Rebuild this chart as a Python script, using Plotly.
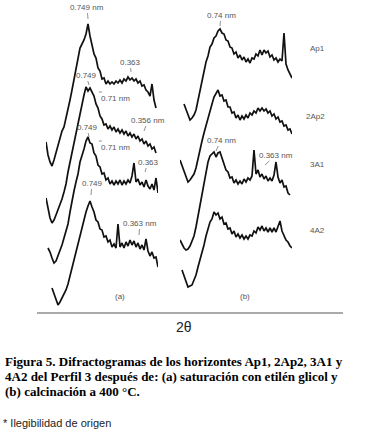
import plotly.graph_objects as go

# 2-theta sampling grid (degrees)
two_theta = [2.0, 2.5, 3.0, 3.5, 4.0, 4.5, 5.0, 5.5, 6.0, 6.5,
             7.0, 7.5, 8.0, 8.5, 9.0, 9.5, 10.0, 10.5, 11.0, 11.5,
             12.0, 12.5, 13.0, 13.5, 14.0, 14.5, 15.0, 15.5, 16.0, 16.5,
             17.0, 17.5, 18.0, 18.5, 19.0, 19.5, 20.0, 20.5, 21.0, 21.5,
             22.0, 22.5, 23.0, 23.5, 24.0, 24.5, 25.0, 25.5, 26.0, 26.5,
             27.0, 27.5, 28.0, 28.5, 29.0, 29.5, 30.0]

horizons = ["Ap1", "2Ap2", "3A1", "4A2"]

# (a) ethylene-glycol saturated - relative intensities
a_Ap1 = [24, 11, 4, 0, 6, 13, 20, 28, 35, 39, 47, 56, 66, 76, 86, 96, 106, 118, 122, 126,
         132, 142, 130, 122, 112, 108, 98, 95, 87, 88, 82, 85, 82, 84, 82, 85, 83, 86, 83, 87,
         85, 89, 86, 88, 85, 87, 83, 85, 80, 81, 76, 74, 70, 82, 66, 58, None]
a_2Ap2 = [25, 13, 5, 0, 3, 8, 13, 18, 24, 31, 39, 51, 61, 69, 78, 89, 101, 111, 120, 128,
          136, 132, 135, 130, 127, 119, 115, 107, 104, 98, 99, 94, 97, 93, 96, 91, 94, 90, 93, 89,
          92, 87, 90, 86, 89, 84, 87, 82, 84, 79, 82, 77, 79, 74, 76, 70, None]
a_3A1 = [None, 15, 11, 5, 0, 2, 7, 11, 18, 25, 32, 39, 51, 63, 72, 81, 89, 101, 107, 114,
         122, 126, 120, 119, 110, 107, 98, 96, 89, 90, 83, 85, 79, 82, 78, 82, 79, 83, 78, 82,
         79, 83, 80, 87, 100, 81, 84, 78, 81, 76, 83, 77, 74, 79, 73, 85, 70]
a_4A2 = [None, None, None, 17, 11, 5, 0, 3, 7, 11, 15, 21, 29, 39, 47, 55, 63, 69, 77, 85,
         93, 99, 104, 98, 93, 85, 83, 76, 75, 68, 69, 63, 65, 58, 61, 57, 81, 58, 62, 57,
         63, 59, 65, 60, 64, 58, 62, 56, 60, 55, 66, 54, 49, 53, 47, 48, 38]

# (b) calcined at 400 C - relative intensities
b_Ap1 = [None, None, 16, 10, 4, 0, 2, 5, 10, 20, 29, 38, 48, 58, 64, 73, 76, 82, 84, 89,
         91, 87, 86, 80, 79, 73, 72, 66, 68, 62, 65, 60, 63, 58, 61, 57, 62, 61, 66, 64,
         70, 65, 70, 67, 69, 63, 65, 60, 62, 58, 61, 59, 87, 56, 50, 46, 42]
b_2Ap2 = [22, 16, 10, 4, 0, 2, 5, 8, 14, 24, 32, 41, 49, 57, 65, 72, 78, 85, 88, 92,
          86, 87, 81, 82, 75, 75, 69, 70, 64, 67, 62, 66, 63, 67, 64, 69, 67, 71, 69, 74,
          71, 74, 71, 73, 69, 71, 66, 68, 63, 65, 60, 61, 56, 57, 52, 53, 48]
b_3A1 = [10, 6, 2, 0, 1, 4, 9, 14, 23, 34, 45, 55, 67, 79, 88, 94, 96, 98, 93, 97,
         98, 92, 87, 80, 78, 72, 73, 67, 70, 66, 69, 66, 71, 68, 72, 70, 74, 100, 76, 80,
         73, 76, 71, 74, 69, 72, 69, 75, 88, 73, 67, 70, 63, 64, 57, 55, None]
b_4A2 = [None, 17, 11, 5, 0, 1, 2, 7, 12, 20, 27, 35, 42, 51, 57, 65, 68, 75, 72, 74,
         68, 70, 63, 64, 58, 59, 53, 56, 50, 53, 49, 52, 48, 51, 48, 52, 51, 56, 54, 60,
         57, 61, 56, 59, 55, 59, 55, 59, 55, 61, 66, 56, 52, 47, 45, 41, 39]

# vertical stacking offsets used for display
offsets_a = [147, 90, 50, 8]
offsets_b = [193, 131, 63, 26]

panel_a = [a_Ap1, a_2Ap2, a_3A1, a_4A2]
panel_b = [b_Ap1, b_2Ap2, b_3A1, b_4A2]

W, H = 373, 438
LINE_BOTTOM = 313  # px from top where the base line sits

fig = go.Figure()

def stacked(vals, off):
    return [None if v is None else v + off for v in vals]

for name, vals, off in zip(horizons, panel_a, offsets_a):
    fig.add_trace(go.Scatter(x=two_theta, y=stacked(vals, off), mode="lines",
                             line=dict(color="#111111", width=1.7), name=name + " (a)",
                             xaxis="x", yaxis="y", showlegend=False, connectgaps=False))
for name, vals, off in zip(horizons, panel_b, offsets_b):
    fig.add_trace(go.Scatter(x=two_theta, y=stacked(vals, off), mode="lines",
                             line=dict(color="#111111", width=1.7), name=name + " (b)",
                             xaxis="x2", yaxis="y", showlegend=False, connectgaps=False))

ann = []
GRAY = "#555555"
SMALL = dict(family="Liberation Sans, Arial, sans-serif", size=8, color=GRAY)

# peak labels: (axis, text, 2theta, level, ax, ay)
peak_labels = [
    ("x", "0.749 nm", 12.5, 294, -1, -12),
    ("x", "0.363", 23.25, 241, -1, -10),
    ("x", "0.749", 12.75, 228, -3, -10),
    ("x", "0.356 nm", 26.5, 182, 4, -11),
    ("x", "0.749", 12.75, 176, -2, -10),
    ("x", "0.363", 26.75, 141, 3, -10),
    ("x", "0.749", 13.25, 118, 1, -12),
    ("x", "0.363 nm", 25.25, 78, 1, -12),
    ("x2", "0.74 nm", 12.0, 287, 1, -11),
    ("x2", "0.74 nm", 11.0, 162, 5, -11),
    ("x2", "0.363 nm", 23.25, 148, 11, -10),
]
for axn, txt, xx, yy, axo, ayo in peak_labels:
    ann.append(dict(x=xx, y=yy, xref=axn, yref="y", text=txt, showarrow=True,
                    arrowhead=0, arrowwidth=0.8, arrowcolor="#777777", ax=axo, ay=ayo,
                    font=SMALL))

# labels without tick
plain_labels = [
    ("x", "0.71 nm", 19.3, 215),
    ("x", "0.71 nm", 19.3, 166),
]
for axn, txt, xx, yy in plain_labels:
    ann.append(dict(x=xx, y=yy, xref=axn, yref="y", text=txt, showarrow=False, font=SMALL))

shapes = [dict(type="line", xref="paper", yref="paper", x0=37 / W, x1=343 / W,
               y0=1 - LINE_BOTTOM / H, y1=1 - LINE_BOTTOM / H,
               line=dict(color="#555555", width=1))]
# short dashes before the 0.71 labels
for yy in (221, 172):
    shapes.append(dict(type="line", xref="x", yref="y", x0=15.2, x1=16.0, y0=yy, y1=yy,
                       line=dict(color="#777777", width=0.8)))

# panel letters
ann.append(dict(x=113 / W, y=1 - 303 / H, xref="paper", yref="paper", text="(a)",
                showarrow=False, font=SMALL))
ann.append(dict(x=245 / W, y=1 - 303 / H, xref="paper", yref="paper", text="(b)",
                showarrow=False, font=SMALL))

# horizon labels at right
right_y = [42, 110, 165, 230]
for name, py in zip(horizons, right_y):
    ann.append(dict(x=327 / W, y=1 - py / H, xref="paper", yref="paper", text=name,
                    showarrow=False, font=SMALL))

# axis title
ann.append(dict(x=184 / W, y=1 - 327 / H, xref="paper", yref="paper", text="2θ",
                showarrow=False, yanchor="middle",
                font=dict(family="Liberation Sans, Arial, sans-serif", size=14, color="#222222")))

# caption
caption = [
    "Figura 5. Difractogramas de los horizontes Ap1, 2Ap2, 3A1 y",
    "4A2 del Perfil 3 después de: (a) saturación con etilén glicol y",
    "(b) calcinación a 400 °C.",
]
cap_y = [361, 376, 391]
for line, py in zip(caption, cap_y):
    ann.append(dict(x=3 / W, y=1 - py / H, xref="paper", yref="paper", text="<b>" + line + "</b>",
                    showarrow=False, xanchor="left", yanchor="middle",
                    font=dict(family="Liberation Serif, Times New Roman, serif", size=13,
                              color="#000000")))
ann.append(dict(x=1 / W, y=1 - 423 / H, xref="paper", yref="paper",
                text="* Ilegibilidad de origen", showarrow=False, xanchor="left",
                yanchor="middle",
                font=dict(family="Liberation Sans, Arial, sans-serif", size=11, color="#222222")))

fig.update_layout(
    width=W, height=H, autosize=False,
    margin=dict(l=0, r=0, t=0, b=0, pad=0),
    paper_bgcolor="white", plot_bgcolor="white",
    xaxis=dict(domain=[46 / W, 158 / W], range=[2, 30], visible=False),
    xaxis2=dict(domain=[180 / W, 292 / W], range=[2, 30], visible=False, anchor="y"),
    yaxis=dict(domain=[1 - LINE_BOTTOM / H, 1], range=[0, LINE_BOTTOM], visible=False),
    annotations=ann,
    shapes=shapes,
    showlegend=False,
)

fig.write_html("out.html", config={"displayModeBar": False},
               post_script="document.body.style.margin='0';")
